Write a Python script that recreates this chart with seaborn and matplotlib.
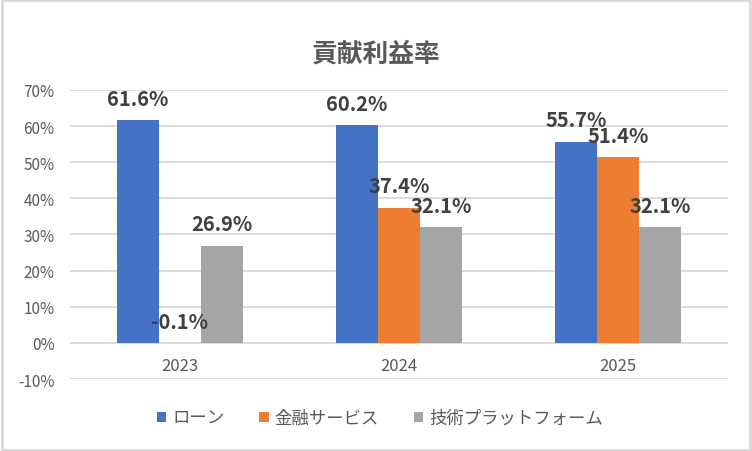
import matplotlib
matplotlib.use("Agg")
import matplotlib.pyplot as plt
import seaborn as sns
import pandas as pd
from matplotlib.patches import Rectangle

# データ
years = ["2023", "2024", "2025"]
series_names = ["ローン", "金融サービス", "技術プラットフォーム"]
loan = [61.6, 60.2, 55.7]
finance = [-0.1, 37.4, 51.4]
tech = [26.9, 32.1, 32.1]
y_ticks = [-10, 0, 10, 20, 30, 40, 50, 60, 70]
title = "貢献利益率"

colors = ["#4472C4", "#ED7D31", "#A5A5A5"]

df = pd.DataFrame({
    "year": years * 3,
    "series": [series_names[0]] * 3 + [series_names[1]] * 3 + [series_names[2]] * 3,
    "value": loan + finance + tech,
})

sns.set_theme(style="white")
plt.rcParams["font.family"] = ["Noto Sans CJK JP", "DejaVu Sans"]

fig = plt.figure(figsize=(7.52, 4.52), dpi=100)
ax = fig.add_axes([0.093, 0.159, 0.875, 0.640])

sns.barplot(data=df, x="year", y="value", hue="series", hue_order=series_names,
            order=years, palette=colors, width=0.575, gap=0, saturation=1,
            edgecolor="none", ax=ax, legend=True, errorbar=None)

ax.set_ylim(-10, 70)
ax.set_xlim(-0.5, 2.5)
ax.set_yticks(y_ticks)
ax.set_yticklabels([f"{t}%" for t in y_ticks], fontsize=11, color="#595959")
ax.yaxis.grid(True, color="#D9D9D9", linewidth=1.3)
ax.set_axisbelow(True)
ax.tick_params(axis="y", length=0, pad=11)
ax.set_xticks([])
ax.set_xlabel("")
ax.set_ylabel("")
for s in ax.spines.values():
    s.set_visible(False)

# 年ラベル（0%ラインの下）
for i, yr in enumerate(years):
    ax.text(i, -6.3, yr, ha="center", va="center", fontsize=12, color="#595959")

# データラベル
for cont in ax.containers:
    for bar in cont:
        h = bar.get_height()
        ax.annotate(f"{h:.1f}%", (bar.get_x() + bar.get_width() / 2, max(h, 0)),
                    xytext=(0, 11), textcoords="offset points",
                    ha="center", va="baseline", fontsize=14.5, fontweight="bold",
                    color="#404040")

# 凡例
handles, labels = ax.get_legend_handles_labels()
ax.get_legend().remove()
fig.legend(handles, labels, loc="center", bbox_to_anchor=(0.505, 0.073), ncol=3,
           frameon=False, fontsize=12.5, labelcolor="#595959",
           handlelength=0.55, handleheight=0.55, handletextpad=0.35,
           columnspacing=2.0)

fig.suptitle(title, x=0.5, y=0.91, fontsize=18.5, fontweight="bold", color="#595959")

# 外枠
fig.patches.append(Rectangle((0.002, 0.003), 0.996, 0.994, transform=fig.transFigure,
                             fill=False, edgecolor="#D9D9D9", linewidth=2))

fig.savefig("out.png", dpi=100)
